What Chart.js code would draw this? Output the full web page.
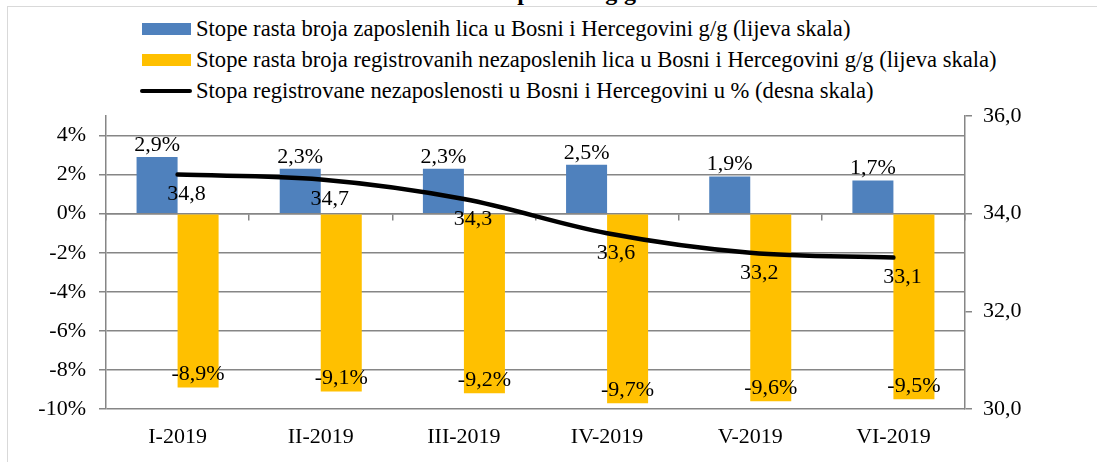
<!DOCTYPE html>
<html lang="bs">
<head>
    <meta charset="UTF-8" />
    <title>Stope rasta g/g</title>
    <script src="https://cdn.jsdelivr.net/npm/chart.js"></script>
    <style>
        html, body { margin: 0; padding: 0; background: #fff; }
        body { width: 1097px; height: 462px; overflow: hidden; position: relative;
               font-family: "Liberation Serif", "Times New Roman", serif; color: #000; }
        .frame { position: absolute; left: 7px; top: 6px; width: 1200px; height: 600px;
                 border: 1px solid #d9d9d9; }
        .title { position: absolute; left: 0; width: 1120px; top: -20px; text-align: center;
                 font-weight: bold; font-size: 24px; line-height: 24px; }
        #legend { position: absolute; left: 140px; top: 13px; }
        .item { display: flex; align-items: center; height: 31px; font-size: 22.6px; white-space: nowrap; }
        .box { width: 49px; height: 12px; margin-left: 2px; margin-right: 5px; }
        .ln { width: 52px; height: 4px; border-radius: 2px; margin-right: 4px; background: #000; }
        canvas { position: absolute; left: 0; top: 0; }
    </style>
</head>
<body>
    <div class="frame"></div>
    <div class="title">Stope rasta g/g</div>
    <div id="legend"></div>
    <canvas id="grafico" width="1097" height="462"></canvas>

    <script>
    // podaci
    const kategorije = ['I-2019', 'II-2019', 'III-2019', 'IV-2019', 'V-2019', 'VI-2019'];
    const zaposleni = [2.9, 2.3, 2.3, 2.5, 1.9, 1.7];
    const nezaposleni = [-8.9, -9.1, -9.2, -9.7, -9.6, -9.5];
    const stopaNezaposlenosti = [34.8, 34.7, 34.3, 33.6, 33.2, 33.1];

    const nazivi = [
        'Stope rasta broja zaposlenih lica u Bosni i Hercegovini g/g (lijeva skala)',
        'Stope rasta broja registrovanih nezaposlenih lica u Bosni i Hercegovini g/g (lijeva skala)',
        'Stopa registrovane nezaposlenosti u Bosni i Hercegovini u % (desna skala)'
    ];

    const plava = '#4f81bd';
    const zuta = '#ffc000';
    const siva = '#868686';
    const font = '"Liberation Serif", "Times New Roman", serif';

    Chart.defaults.font.family = font;
    Chart.defaults.color = '#000';

    const zarez = (v, d) => v.toFixed(d).replace('.', ',');

    // legenda (html)
    const legend = document.getElementById('legend');
    [plava, zuta, null].forEach((c, i) => {
        const row = document.createElement('div');
        row.className = 'item';
        const mark = document.createElement('span');
        if (c) { mark.className = 'box'; mark.style.background = c; }
        else { mark.className = 'ln'; }
        row.appendChild(mark);
        row.appendChild(document.createTextNode(nazivi[i]));
        legend.appendChild(row);
    });

    // oznake vrijednosti
    const oznake = {
        id: 'oznake',
        afterDatasetsDraw(chart) {
            const ctx = chart.ctx;
            ctx.save();
            ctx.font = '22px ' + font;
            ctx.fillStyle = '#000';
            ctx.textAlign = 'center';
            ctx.textBaseline = 'middle';
            chart.data.datasets.forEach((ds, i) => {
                const meta = chart.getDatasetMeta(i);
                meta.data.forEach((el, j) => {
                    const v = ds.data[j];
                    if (ds.type === 'line') {
                        ctx.fillText(zarez(v, 1), el.x + 9, el.y + 20);
                    } else if (v >= 0) {
                        ctx.fillText(zarez(v, 1) + '%', el.x, el.y - 12);
                    } else {
                        ctx.fillText(zarez(v, 1) + '%', el.x, el.y - 13);
                    }
                });
            });
            ctx.restore();
        }
    };

    const ctx = document.getElementById('grafico').getContext('2d');
    const grafico = new Chart(ctx, {
        type: 'bar',
        data: {
            labels: kategorije,
            datasets: [
                {
                    label: nazivi[0],
                    data: zaposleni,
                    backgroundColor: plava,
                    yAxisID: 'y',
                    order: 2,
                    categoryPercentage: 0.573,
                    barPercentage: 1
                },
                {
                    label: nazivi[1],
                    data: nezaposleni,
                    backgroundColor: zuta,
                    yAxisID: 'y',
                    order: 2,
                    categoryPercentage: 0.573,
                    barPercentage: 1
                },
                {
                    type: 'line',
                    label: nazivi[2],
                    data: stopaNezaposlenosti,
                    borderColor: '#000',
                    borderWidth: 4.5,
                    borderCapStyle: 'round',
                    pointRadius: 0,
                    tension: 0.35,
                    yAxisID: 'y2',
                    order: 1
                }
            ]
        },
        options: {
            responsive: false,
            animation: false,
            layout: { padding: { top: 116, left: 0, right: 0, bottom: 0 } },
            plugins: {
                legend: { display: false },
                tooltip: { enabled: false }
            },
            scales: {
                x: {
                    grid: { display: false, drawTicks: false },
                    border: { display: false },
                    ticks: { font: { size: 22 }, padding: 15 },
                    afterFit: s => { s.height = 53; }
                },
                x0: {
                    type: 'category',
                    axis: 'x',
                    position: { y: 0 },
                    grid: { offset: true, drawOnChartArea: false, tickLength: 6, color: siva, lineWidth: 1.5 },
                    border: { color: siva, width: 1.5 },
                    ticks: { display: false }
                },
                y: {
                    position: 'left',
                    min: -10,
                    max: 5,
                    bounds: 'data',
                    ticks: {
                        stepSize: 2,
                        includeBounds: false,
                        padding: 13,
                        font: { size: 22 },
                        callback: v => v + '%'
                    },
                    // samo parne vrijednosti (bez 5%)
                    afterBuildTicks: s => { s.ticks = s.ticks.filter(t => t.value % 2 === 0); },
                    grid: { color: siva, lineWidth: 1.5, tickLength: 7 },
                    border: { color: siva, width: 1.5 },
                    afterFit: s => { s.width = 106; }
                },
                y2: {
                    position: 'right',
                    min: 30,
                    max: 36,
                    ticks: {
                        stepSize: 2,
                        padding: 11,
                        font: { size: 22 },
                        callback: v => zarez(v, 1)
                    },
                    grid: { drawOnChartArea: false, color: siva, lineWidth: 1.5, tickLength: 7 },
                    border: { color: siva, width: 1.5 },
                    afterFit: s => { s.width = 132; }
                }
            }
        },
        plugins: [oznake]
    });
    </script>
</body>
</html>
